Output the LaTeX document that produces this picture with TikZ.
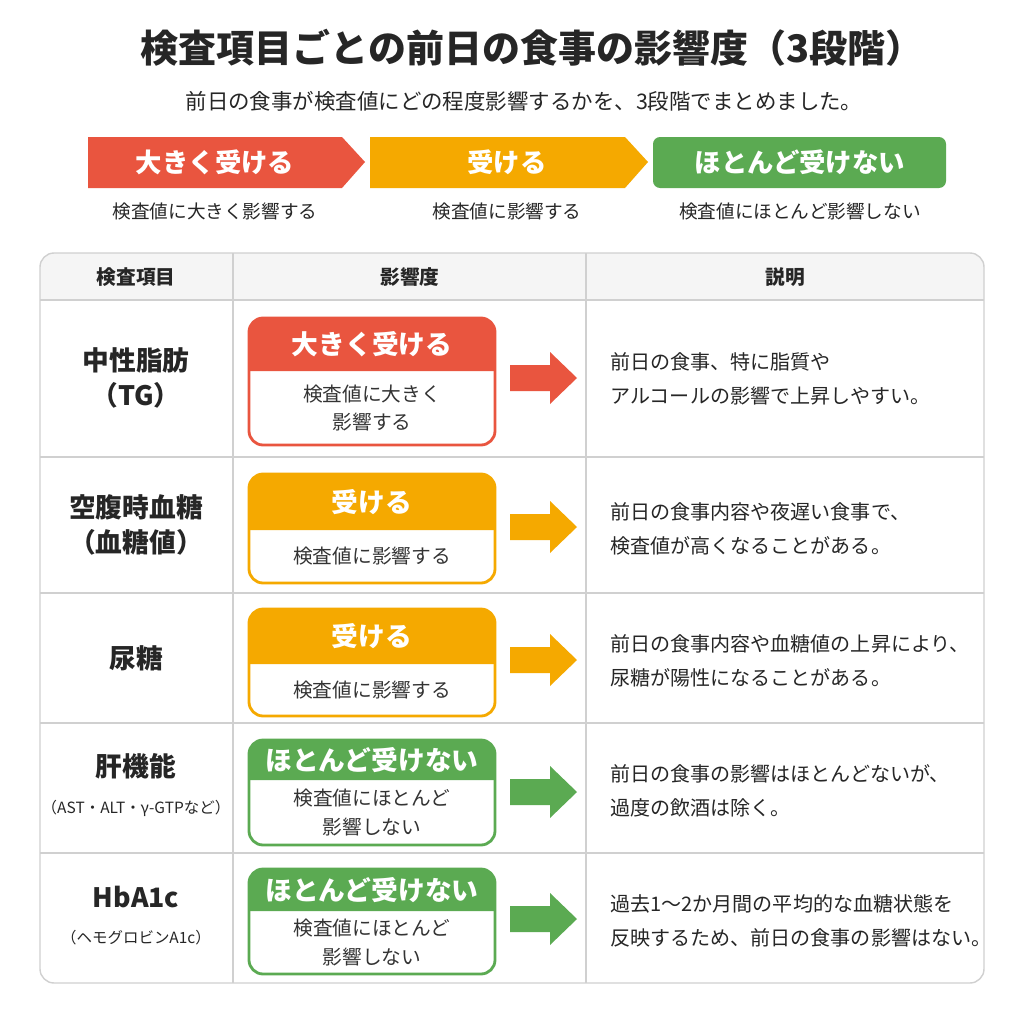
\documentclass[tikz,border=0pt]{standalone}
\usepackage{fontspec}
\setmainfont{Noto Sans CJK JP}
\usetikzlibrary{positioning}
\definecolor{cred}{HTML}{E9553F}
\definecolor{corg}{HTML}{F5A900}
\definecolor{cgrn}{HTML}{5BAA52}
\definecolor{cline}{HTML}{D0D0D0}
\newcommand{\fs}[2]{\fontsize{#1pt}{#2pt}\selectfont}
% badge: name, colour, top, split, bottom, label, text
\newcommand{\badge}[7]{
	\fill[#2, rounded corners=4] (249,#4) |- (495,#3) [sharp corners] -- (495,#4) -- cycle;
	\draw[#2, line width=0.8pt, rounded corners=4] (249,#3) rectangle (495,#5);
	\node[badgelbl] (#1l) at (372,{(#3+#4)/2}) {#6};
	\node[badgetxt] (#1t) at (372,{(#4+#5)/2}) {#7};
}
% block arrow at centre y
\newcommand{\barrow}[2]{
	\fill[#1] (510,#2-13) -- (550,#2-13) -- (550,#2-26) -- (577,#2) -- (550,#2+26) -- (550,#2+13) -- (510,#2+13) -- cycle;
}
\tikzset{
	badgelbl/.style={text=white, font=\fs{7.6}{9}\bfseries},
	badgetxt/.style={align=center, font=\fs{5.6}{8.2}, text=black!80},
	rowname/.style={align=center, font=\fs{7.6}{10}\bfseries, text=black!85},
	expl/.style={anchor=west, align=left, font=\fs{5.7}{9.7}, text=black!85},
	legend/.style={text=white, font=\fs{7.5}{8}\bfseries},
	caption/.style={font=\fs{5.3}{6}, text=black!85},
	head/.style={font=\fs{5.6}{6}\bfseries, text=black!85},
	small/.style={font=\fs{4.4}{5}, text=black!85}
}
\begin{document}
\begin{tikzpicture}[x=0.01cm, y=-0.01cm]
\useasboundingbox (0,0) rectangle (1024,1024);
\fill[white] (0,0) rectangle (1024,1024);

\node[font=\fs{10.8}{12}\bfseries, text=black!85] (title) at (532,48) {検査項目ごとの前日の食事の影響度（3段階）};
\node[font=\fs{6.1}{7}, text=black!85] (sub) at (524,101) {前日の食事が検査値にどの程度影響するかを、3段階でまとめました。};

% legend
\fill[cred] (88,137) -- (342,137) -- (365,162) -- (342,188) -- (88,188) -- cycle;
\fill[corg] (370,137) -- (625,137) -- (648,162) -- (625,188) -- (370,188) -- cycle;
\fill[cgrn, rounded corners=2] (653,137) rectangle (946,188);
\node[legend] (l1) at (215,162) {大きく受ける};
\node[legend] (l2) at (507,162) {受ける};
\node[legend] (l3) at (800,162) {ほとんど受けない};
\node[caption] (c1) at (215,211) {検査値に大きく影響する};
\node[caption] (c2) at (507,211) {検査値に影響する};
\node[caption] (c3) at (800,211) {検査値にほとんど影響しない};

% table
\fill[black!4, rounded corners=4] (40,300) |- (984,253) [sharp corners] -- (984,300) -- cycle;
\draw[cline, rounded corners=4] (40,253) rectangle (984,983);
\foreach \y in {300,457,593,723,853}{
	\draw[cline] (40,\y) -- (984,\y);
}
\draw[cline] (233,253) -- (233,983);
\draw[cline] (586,253) -- (586,983);
\node[head] (h1) at (136,277) {検査項目};
\node[head] (h2) at (410,277) {影響度};
\node[head] (h3) at (785,277) {説明};

% row 1
\node[rowname] (r1) at (136,378) {中性脂肪\\（TG）};
\badge{b1}{cred}{318}{371}{445}{大きく受ける}{検査値に大きく\\影響する}
\barrow{cred}{378}
\node[expl] (e1) at (598,379) {前日の食事、特に脂質や\\アルコールの影響で上昇しやすい。};

% row 2
\node[rowname] (r2) at (136,525) {空腹時血糖\\（血糖値）};
\badge{b2}{corg}{474}{530}{583}{受ける}{検査値に影響する}
\barrow{corg}{527}
\node[expl] (e2) at (598,529) {前日の食事内容や夜遅い食事で、\\検査値が高くなることがある。};

% row 3
\node[rowname] (r3) at (136,658) {尿糖};
\badge{b3}{corg}{609}{664}{716}{受ける}{検査値に影響する}
\barrow{corg}{660}
\node[expl] (e3) at (598,661) {前日の食事内容や血糖値の上昇により、\\尿糖が陽性になることがある。};

% row 4
\node[rowname, anchor=south] (r4) at (136,792) {肝機能};
\node[small] (r4s) at (136,808) {（AST・ALT・γ-GTPなど）};
\badge{b4}{cgrn}{740}{780}{845}{ほとんど受けない}{検査値にほとんど\\影響しない}
\barrow{cgrn}{792}
\node[expl] (e4) at (598,791) {前日の食事の影響はほとんどないが、\\過度の飲酒は除く。};

% row 5
\node[rowname, anchor=south] (r5) at (136,920) {HbA1c};
\node[small] (r5s) at (136,938) {（ヘモグロビンA1c）};
\badge{b5}{cgrn}{869}{911}{974}{ほとんど受けない}{検査値にほとんど\\影響しない}
\barrow{cgrn}{919}
\node[expl] (e5) at (598,921) {過去1〜2か月間の平均的な血糖状態を\\反映するため、前日の食事の影響はない。};
\end{tikzpicture}
\end{document}
